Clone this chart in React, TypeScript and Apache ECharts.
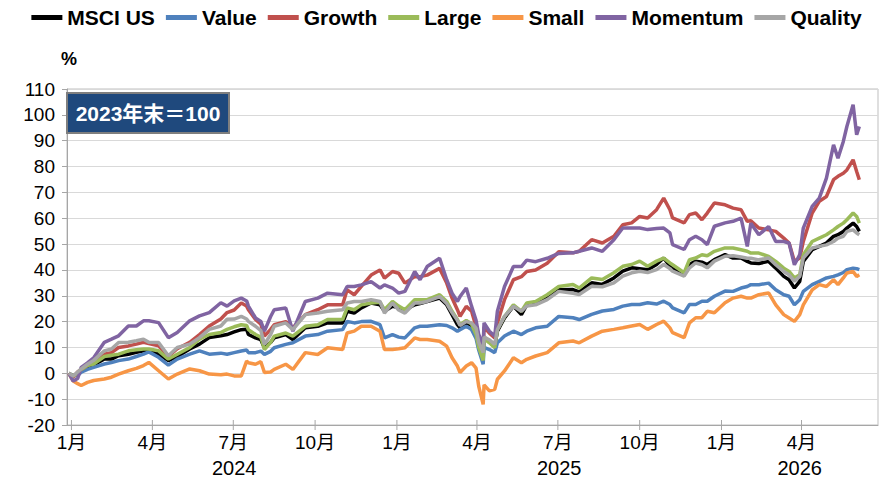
import React, { useEffect, useRef } from "react";
import * as echarts from "echarts";

const seriesNames = ["MSCI US", "Value", "Growth", "Large", "Small", "Momentum", "Quality"];
const seriesColors = ["#000000", "#4F81BD", "#C0504D", "#9BBB59", "#F79646", "#8064A2", "#A6A6A6"];

const dates = [
  "2023-12-29", "2024-01-03", "2024-01-08", "2024-01-12", "2024-01-19", "2024-01-26", "2024-02-07", "2024-02-15",
  "2024-02-23", "2024-03-05", "2024-03-14", "2024-03-22", "2024-03-28", "2024-04-08", "2024-04-19", "2024-04-29",
  "2024-05-13", "2024-05-24", "2024-06-04", "2024-06-17", "2024-06-24", "2024-07-02", "2024-07-10", "2024-07-16",
  "2024-07-18", "2024-07-26", "2024-08-01", "2024-08-05", "2024-08-12", "2024-08-16", "2024-08-29", "2024-09-06",
  "2024-09-20", "2024-10-04", "2024-10-15", "2024-11-01", "2024-11-06", "2024-11-14", "2024-11-22", "2024-12-03",
  "2024-12-13", "2024-12-18", "2024-12-27", "2025-01-03", "2025-01-10", "2025-01-21", "2025-01-27", "2025-02-04",
  "2025-02-18", "2025-02-26", "2025-03-04", "2025-03-10", "2025-03-13", "2025-03-20", "2025-03-26", "2025-03-31",
  "2025-04-03", "2025-04-08", "2025-04-09", "2025-04-15", "2025-04-21", "2025-04-24", "2025-05-02", "2025-05-12",
  "2025-05-21", "2025-05-27", "2025-06-06", "2025-06-19", "2025-07-02", "2025-07-18", "2025-07-25", "2025-08-08",
  "2025-08-20", "2025-09-02", "2025-09-12", "2025-09-22", "2025-10-01", "2025-10-10", "2025-10-20", "2025-10-28",
  "2025-11-04", "2025-11-07", "2025-11-20", "2025-11-26", "2025-12-03", "2025-12-10", "2025-12-16", "2025-12-24",
  "2026-01-05", "2026-01-14", "2026-01-23", "2026-01-30", "2026-02-03", "2026-02-12", "2026-02-23", "2026-03-03",
  "2026-03-12", "2026-03-18", "2026-03-24", "2026-03-30", "2026-04-03", "2026-04-13", "2026-04-21", "2026-04-29",
  "2026-05-07", "2026-05-12", "2026-05-18", "2026-05-22", "2026-05-29", "2026-06-02", "2026-06-05",
];

const msciUS = [
  0, -1, 0, 1.5, 2.5, 3.2, 5.5, 5.5, 6.8, 7.4, 8.1, 8.7, 8.7, 7.4, 4.9, 6.5,
  9.4, 11.3, 13.8, 14.5, 15, 16, 16.9, 17, 15, 13.7, 13, 9.9, 12, 13.7, 15, 13.1,
  17.6, 18.2, 19.5, 19.5, 24, 23.3, 25.3, 27.2, 26.5, 24, 25.9, 25.5, 24.5, 26.5, 27, 27.8,
  29.1, 26.5, 22.7, 18.8, 17.6, 19.5, 18.5, 15.5, 11, 6.5, 14, 12, 10.5, 16.3, 21.4, 26,
  22.7, 26.5, 27, 29.1, 32.3, 32.4, 31.5, 35, 34.4, 36.9, 39.5, 40.8, 40.5, 40.1, 42.1, 44.6,
  41.4, 40.5, 38.2, 42.1, 43.4, 43, 42.1, 44, 45.9, 44.6, 44.6, 43.3, 42.7, 42.5, 43.3, 40.7,
  37.5, 36.2, 33, 35.6, 43.3, 47.8, 49.1, 50.4, 53, 53.6, 54.9, 56.2, 58.1, 56.8, 54.9,
];
const valueIdx = [
  0, -1, -0.8, 0.4, 1.5, 2.3, 3.6, 4.2, 4.9, 5.5, 6.5, 7.4, 8.3, 6.2, 3.2, 5.5,
  7.4, 8.7, 7.4, 7.8, 7.4, 8, 8.6, 9, 8, 8, 8.6, 7.3, 8.5, 9.9, 11.2, 11.8,
  14.4, 15, 16.3, 16.9, 20.1, 19.5, 20, 20.1, 18.8, 13.7, 15, 14, 13.7, 17.6, 18.2, 18.2,
  18.8, 18.5, 17.6, 16.3, 16.9, 18.2, 16.9, 13.5, 9, 3.5, 10, 9.2, 8, 11.8, 14.4, 16.3,
  15, 16.3, 17.6, 18.2, 22, 21.5, 20.8, 22.8, 24.1, 24.7, 26, 26.6, 26.6, 27.3, 26.8, 27.9,
  26.6, 25.3, 23.4, 26.6, 26.6, 27.9, 27.9, 29.8, 31.8, 31.7, 33, 33.6, 34.3, 34.3, 34.9, 32.3,
  30.4, 29.8, 26.5, 28.5, 31.7, 34.3, 35.6, 36.9, 37.5, 38.1, 39, 40.1, 40.7, 40.5, 40.1,
];
const growth = [
  0, -1.5, 0.5, 1.5, 3, 4.5, 7.4, 8, 10, 10.6, 11.3, 12, 11.5, 10.6, 6.5, 9.5,
  12, 15, 18.3, 21, 23.5, 24.5, 27.2, 26, 24.6, 20.8, 19, 14.4, 17, 18.8, 20, 17.6,
  22.7, 24.6, 26.5, 26.5, 32.3, 30.4, 33.6, 38, 40, 36.8, 39.4, 38.7, 34.9, 37.4, 37.4, 38,
  40.6, 34.9, 29.1, 24.6, 22, 25.9, 24, 18, 14, 10, 18, 15.5, 13.7, 19.5, 28.5, 36.2,
  37.4, 39.4, 40, 42.6, 47, 46.6, 47.2, 51.7, 50.4, 53, 57.5, 58.2, 60.7, 60.1, 63.3, 67.8,
  63.3, 60.1, 58.2, 61.4, 62, 59.4, 62, 65.9, 65.2, 63.9, 63.3, 58.8, 59, 56.2, 55.5, 54.9,
  52.3, 50.4, 43.3, 44.6, 51, 62, 66.5, 68.4, 74.9, 76.2, 77.4, 78.7, 82.6, 78.1, 74.9,
];
const large = [
  0, -1, 0, 1.5, 3, 3.6, 6.5, 7, 7.4, 8.7, 9.1, 9.4, 9.4, 8.7, 5.5, 7.4,
  10, 13.2, 15, 15.8, 17, 18, 18.8, 18.5, 16.9, 15, 14, 9.2, 12, 14.4, 15.6, 14.4,
  18.2, 18.8, 20.8, 20.8, 25.3, 24.6, 26.5, 27.2, 27.5, 24.6, 27.8, 26, 24.6, 28.5, 28.5, 28.5,
  30.4, 27.8, 24, 20.8, 18.8, 20.5, 19, 15, 10, 5, 13.5, 11.8, 9.9, 16.9, 22, 26.5,
  24, 27.2, 27.8, 30.4, 33.6, 34.4, 33, 36.9, 36.3, 38.9, 41.4, 42.1, 43.4, 41.4, 43.4, 44.6,
  42.7, 42, 38.9, 44, 44.6, 45.9, 45.5, 47.2, 48.5, 48.5, 47.8, 47.2, 46.5, 46.5, 45.2, 43.3,
  40.7, 39.4, 36.9, 38.1, 45.9, 51, 52.3, 53.6, 55.5, 56.8, 58.1, 59.4, 62, 60.7, 58.1,
];
const small = [
  0, -3, -4, -4.7, -3.5, -2.8, -2.2, -1.5, -0.3, 1, 1.9, 3, 4.2, 1, -2.2, -0.3,
  1.7, 1, -0.3, -0.6, -0.3, -1, -1, 4.7, 4.1, 3.5, 4.5, 0.3, 0.5, 1.5, 3.5, 1.5,
  8, 7.3, 9.9, 9.2, 15.6, 16.3, 18.2, 18.2, 16.3, 9.2, 9.2, 9.5, 9.9, 13.7, 13.1, 13.1,
  12.4, 10.5, 6, 2.8, 0.3, 2.8, 4.1, 2, -5, -12, -4.5, -6.8, -6.2, -2.3, 0.9, 6,
  4.1, 5.4, 6.7, 8, 11.8, 12.5, 11.8, 14.4, 16.3, 17, 17.6, 18.3, 18.9, 17, 18.9, 20.2,
  17.6, 15.7, 13.8, 19.5, 21.5, 21.5, 24, 23.4, 27.3, 29.1, 29.8, 29.1, 29.1, 30.4, 31.1, 26.5,
  22.7, 21.4, 20.1, 22.7, 26.5, 32.3, 34.3, 33.6, 36.2, 34.3, 36.9, 38.8, 39.4, 37.5, 38.1,
];
const momentum = [
  0, -3, -2, 2.3, 4, 6, 12, 13.2, 14.5, 18.3, 18.3, 20.3, 20.3, 19.6, 13.8, 15.8,
  20.3, 22.2, 23.5, 27.3, 26, 28, 29.1, 28, 26, 21.4, 20.1, 16.3, 22, 24.6, 25.3, 16.3,
  27.8, 29.1, 31, 30.4, 33.6, 33.6, 34.2, 35.5, 33, 34.2, 33, 31, 31.7, 39.4, 36.2, 41.3,
  44.5, 36.2, 31, 27.8, 29.7, 33, 25.9, 20.5, 15, 11, 19.5, 16.3, 14.4, 24, 33.6, 41.3,
  41.3, 43.8, 43.2, 44.5, 46.4, 46.6, 47.2, 48.5, 47.2, 51.7, 56.2, 56.2, 56.2, 55.6, 56, 56.2,
  54.3, 49.8, 47.9, 51.7, 53, 51.7, 49.8, 56.9, 58.2, 58.8, 60, 49.1, 58.1, 53.6, 56.8, 51,
  51, 50.4, 42, 45.9, 56.2, 64.6, 67.8, 75.5, 88.4, 83.2, 89.7, 95.5, 103.9, 92.3, 95.5,
];
const quality = [
  0, -1, 0.5, 1.7, 3.5, 5, 8.7, 9.4, 11.9, 12, 12.6, 13.2, 12, 11.9, 6.8, 10,
  11.3, 13.8, 17, 18.3, 20.9, 21, 22, 21, 20.1, 18.2, 16.5, 11.2, 15, 18.2, 19.5, 16.9,
  22.7, 23.3, 24, 24.6, 27.2, 27.8, 27.8, 28.5, 27.8, 23.3, 27.2, 24.5, 23.3, 27.2, 27.2, 27.8,
  29.7, 27, 23.5, 20.5, 18.5, 20, 19.5, 17.5, 12, 8, 14, 13, 11.2, 16.9, 22, 25.9,
  24, 26, 26.5, 28.5, 31.7, 31, 30.5, 33.7, 33.5, 35, 37.6, 38.9, 39.5, 39, 40.1, 42.1,
  40.5, 39.5, 37.6, 40.8, 42.7, 42, 40.8, 43.4, 45.3, 45.5, 45, 44.5, 44.5, 43.9, 44.6, 42,
  39.4, 38.1, 35.6, 37.5, 44.6, 48.5, 49.1, 49.7, 51, 52.3, 53, 54.9, 55.5, 54.3, 53.6,
];

const seriesValues = [msciUS, valueIdx, growth, large, small, momentum, quality];

const yTicks = { min: -20, max: 110, interval: 10 };
const axisMinDate = "2023-12-27";
const axisMaxDate = "2026-06-26";
const quarterTicks = [
  "2024-01-01", "2024-04-01", "2024-07-01", "2024-10-01", "2025-01-01",
  "2025-04-01", "2025-07-01", "2025-10-01", "2026-01-01", "2026-04-01",
];
const quarterLabels = ["1月", "4月", "7月", "10月", "1月", "4月", "7月", "10月", "1月", "4月"];
const yearStarts = ["2024-01-01", "2025-01-01", "2026-01-01"];
const yearLabels = ["2024", "2025", "2026"];

const FONT = '"Liberation Sans", Arial, "Noto Sans CJK JP", sans-serif';

export default function App() {
  const ref = useRef<HTMLDivElement>(null);

  useEffect(() => {
    if (!ref.current) return;
    const chart = echarts.init(ref.current, null, { renderer: "svg" });

    const ts = (s: string) => new Date(s + "T00:00:00").getTime();
    const yearCenters = yearStarts.map((s, i) => {
      const a = ts(s);
      const b = i + 1 < yearStarts.length ? ts(yearStarts[i + 1]) : ts(axisMaxDate);
      return (a + b) / 2;
    });

    const lineSeries = seriesNames.map((name, k) => ({
      name,
      type: "line",
      data: dates.map((d, i) => [ts(d), seriesValues[k][i]]),
      showSymbol: false,
      symbol: "none",
      lineStyle: { color: seriesColors[k], width: 3.5 },
      itemStyle: { color: seriesColors[k] },
      z: 3,
    }));

    const option: any = {
      animation: false,
      textStyle: { fontFamily: FONT },
      legend: {
        data: seriesNames,
        top: 2,
        left: "center",
        icon: "rect",
        itemWidth: 31,
        itemHeight: 5,
        itemGap: 11,
        textStyle: { fontSize: 21, fontWeight: "bold", color: "#000", fontFamily: FONT },
      },
      grid: {
        left: 67,
        right: 15,
        top: 89,
        bottom: 58,
        show: true,
        borderColor: "#BFBFBF",
        borderWidth: 1,
      },
      xAxis: {
        type: "time",
        min: ts(axisMinDate),
        max: ts(axisMaxDate),
        axisLine: { show: true, onZero: false, lineStyle: { color: "#A6A6A6", width: 1 } },
        axisTick: { show: false },
        axisLabel: { show: false },
        splitLine: { show: false },
      },
      yAxis: {
        type: "value",
        min: yTicks.min,
        max: yTicks.max,
        interval: yTicks.interval,
        axisLine: { show: true, lineStyle: { color: "#A6A6A6" } },
        axisTick: { show: true, length: 5, lineStyle: { color: "#A6A6A6" } },
        axisLabel: { fontSize: 19, color: "#000", margin: 12, fontFamily: FONT },
        splitLine: { show: true, lineStyle: { color: "#D9D9D9", width: 1 } },
      },
      graphic: [
        {
          type: "text",
          left: 61,
          top: 50,
          style: { text: "%", fontSize: 18, fontWeight: "bold", fill: "#000", fontFamily: FONT },
        },
        {
          type: "rect",
          shape: { x: 67, y: 93, width: 162, height: 40 },
          style: { fill: "#1F497D", stroke: "#7F7F7F", lineWidth: 2 },
          z: 10,
        },
        {
          type: "text",
          x: 148,
          y: 113,
          style: {
            text: "2023年末＝100",
            fontSize: 21,
            fontWeight: "bold",
            fill: "#FFFFFF",
            fontFamily: FONT,
            align: "center",
            verticalAlign: "middle",
          },
          z: 11,
        },
      ],
      series: [
        ...lineSeries,
        {
          type: "custom",
          name: "quarterTicks",
          clip: false,
          silent: true,
          encode: { x: 0, y: 1 },
          data: quarterTicks.map((d) => [ts(d), yTicks.min]),
          renderItem: (params: any, api: any) => {
            const p = api.coord([api.value(0), api.value(1)]);
            return {
              type: "group",
              children: [
                {
                  type: "line",
                  shape: { x1: p[0], y1: p[1] - 5, x2: p[0], y2: p[1] + 5 },
                  style: { stroke: "#A6A6A6", lineWidth: 1 },
                },
                {
                  type: "text",
                  x: p[0],
                  y: p[1] + 17,
                  style: {
                    text: quarterLabels[params.dataIndex],
                    fill: "#000",
                    fontSize: 19,
                    fontFamily: FONT,
                    align: "center",
                    verticalAlign: "middle",
                  },
                },
              ],
            };
          },
        },
        {
          type: "custom",
          name: "years",
          clip: false,
          silent: true,
          encode: { x: 0, y: 1 },
          data: yearCenters.map((c) => [c, yTicks.min]),
          renderItem: (params: any, api: any) => {
            const p = api.coord([api.value(0), api.value(1)]);
            return {
              type: "text",
              x: p[0],
              y: p[1] + 43,
              style: {
                text: yearLabels[params.dataIndex],
                fill: "#000",
                fontSize: 20,
                fontFamily: FONT,
                align: "center",
                verticalAlign: "middle",
              },
            };
          },
        },
      ],
    };

    chart.setOption(option);
    return () => chart.dispose();
  }, []);

  return (
    <div
      ref={ref}
      style={{ position: "fixed", left: 0, top: 0, width: 893, height: 483, background: "#fff" }}
    />
  );
}
